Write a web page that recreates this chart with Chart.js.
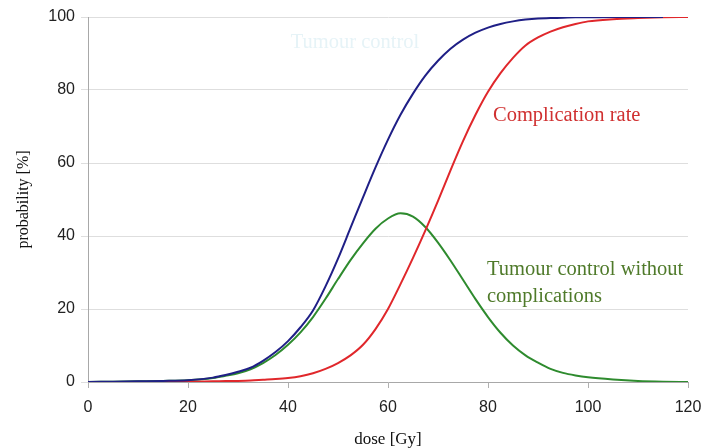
<!DOCTYPE html>
<html>
<head>
<meta charset="utf-8">
<script src="https://cdn.jsdelivr.net/npm/chart.js@4/dist/chart.umd.min.js"></script>
<style>
  html, body { margin: 0; padding: 0; background: #fff; }
  #wrap { width: 705px; height: 448px; }
</style>
</head>
<body>
<div id="wrap"><canvas id="myChart"></canvas></div>
<script>
'use strict';

// dose in Gy
const dose = [0, 5, 10, 15, 20, 25, 27.5, 30, 32.5, 35, 37.5, 40, 42.5, 45, 47.5, 50,
  52.5, 55, 57.5, 60, 62.5, 65, 67.5, 70, 72.5, 75, 77.5, 80, 82.5, 85, 87.5, 90,
  92.5, 95, 97.5, 100, 105, 110, 115, 120];

// probabilities in %
const tumourControl = [0, 0.1, 0.2, 0.3, 0.5, 1.2, 1.9, 2.8, 3.9, 5.8, 8.2, 11.2, 15.0, 19.6, 26.2, 33.8,
  42.2, 50.6, 58.8, 66.4, 73.2, 79.0, 84.0, 88.0, 91.3, 93.8, 95.7, 97.1, 98.1, 98.8, 99.3, 99.6,
  99.7, 99.8, 99.9, 99.9, 100, 100, 100, null];
const complication = [0, 0, 0, 0.05, 0.1, 0.2, 0.25, 0.3, 0.4, 0.6, 0.8, 1.1, 1.6, 2.4, 3.6, 5.2,
  7.3, 10.2, 14.5, 20.0, 26.8, 34.0, 41.6, 49.6, 58.0, 66.0, 73.2, 79.5, 84.6, 88.8, 92.2, 94.4,
  96.0, 97.2, 98.1, 98.8, 99.4, 99.7, 99.9, 100];
const controlNoCompl = [0, 0.1, 0.2, 0.3, 0.5, 1.1, 1.7, 2.4, 3.5, 5.2, 7.4, 10.2, 13.6, 17.8, 22.8, 28.2,
  33.4, 38.0, 42.0, 44.8, 46.2, 45.3, 42.4, 38.2, 33.3, 28.0, 22.7, 17.8, 13.5, 10.0, 7.3, 5.3,
  3.6, 2.5, 1.8, 1.3, 0.7, 0.3, 0.1, 0];

const xTicks = [0, 20, 40, 60, 80, 100, 120];
const yTicks = [0, 20, 40, 60, 80, 100];

// curve captions: text, dose, probability, colour, alignment
const captions = [
  { lines: ['Tumour control'], x: 53.4, y: 93, color: '#e6f3f7', align: 'center' },
  { lines: ['Complication rate'], x: 81, y: 73, color: '#d03030', align: 'left' },
  { lines: ['Tumour control without', 'complications'], x: 79.8, y: 30.7, color: '#4f7a2a', align: 'left' }
];

const toPoints = arr => dose.map((d, i) => ({ x: d, y: arr[i] }));

const captionPlugin = {
  id: 'captions',
  afterDatasetsDraw(chart) {
    const { ctx, scales } = chart;
    ctx.save();
    ctx.font = '20.5px "Liberation Serif", "Times New Roman", serif';
    ctx.textBaseline = 'middle';
    captions.forEach(c => {
      ctx.fillStyle = c.color;
      ctx.textAlign = c.align;
      const px = scales.x.getPixelForValue(c.x);
      const py = scales.y.getPixelForValue(c.y);
      c.lines.forEach((line, i) => ctx.fillText(line, px, py + i * 27));
    });
    ctx.restore();
  }
};

const line = (data, color) => ({
  data: toPoints(data),
  borderColor: color,
  borderWidth: 2,
  pointRadius: 0,
  fill: false,
  cubicInterpolationMode: 'monotone',
  spanGaps: false
});

const ctx = document.getElementById('myChart');
new Chart(ctx, {
  type: 'line',
  data: {
    datasets: [
      line(tumourControl, '#1f1f86'),
      line(complication, '#e0272b'),
      line(controlNoCompl, '#2e8b2e')
    ]
  },
  options: {
    responsive: true,
    maintainAspectRatio: false,
    animation: false,
    layout: { padding: { top: 17, right: 17, left: 0, bottom: 0 } },
    plugins: { legend: { display: false }, tooltip: { enabled: false } },
    scales: {
      x: {
        type: 'linear',
        min: 0,
        max: 120,
        afterBuildTicks: s => { s.ticks = xTicks.map(v => ({ value: v })); },
        afterFit: s => { s.height = 66; s.paddingLeft = 0; s.paddingRight = 0; },
        grid: { drawOnChartArea: false, drawTicks: true, tickLength: 6, color: '#b0b0b0' },
        border: { color: '#a8a8a8', width: 1 },
        ticks: { color: '#222', padding: 10, font: { family: '"Liberation Sans", Arial, sans-serif', size: 16 } },
        title: { display: true, text: 'dose [Gy]', color: '#111', padding: { top: 12, bottom: -2 },
          font: { family: '"Liberation Serif", "Times New Roman", serif', size: 17 } }
      },
      y: {
        min: 0,
        max: 100,
        afterBuildTicks: s => { s.ticks = yTicks.map(v => ({ value: v })); },
        afterFit: s => { s.width = 88; },
        grid: { color: '#dedede', tickLength: 7, lineWidth: 1 },
        border: { color: '#a8a8a8', width: 1 },
        ticks: { color: '#222', padding: 6, font: { family: '"Liberation Sans", Arial, sans-serif', size: 16 } },
        title: { display: true, text: 'probability [%]', color: '#111', padding: { top: 14 },
          font: { family: '"Liberation Serif", "Times New Roman", serif', size: 16 } }
      }
    }
  },
  plugins: [captionPlugin]
});
</script>
</body>
</html>
